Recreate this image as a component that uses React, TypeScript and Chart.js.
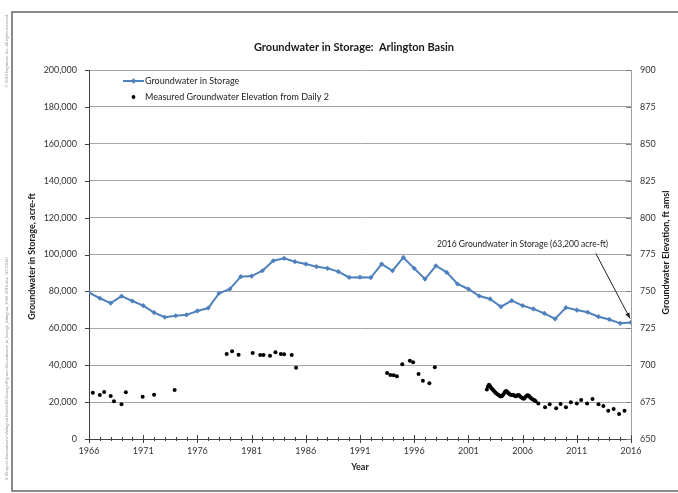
import React, { useEffect, useRef } from "react";
import { Chart, registerables } from "chart.js";

Chart.register(...registerables);

// ---- Data ----
const storageYears: number[] = [
  1966, 1967, 1968, 1969, 1970, 1971, 1972, 1973, 1974, 1975, 1976, 1977, 1978, 1979, 1980, 1981, 1982,
  1983, 1984, 1985, 1986, 1987, 1988, 1989, 1990, 1991, 1992, 1993, 1994, 1995, 1996, 1997, 1998, 1999,
  2000, 2001, 2002, 2003, 2004, 2005, 2006, 2007, 2008, 2009, 2010, 2011, 2012, 2013, 2014, 2015, 2016,
];
const storageValues: number[] = [
  79300, 76300, 73600, 77400, 74800, 72300, 68500, 66000, 66800, 67300, 69400, 71000, 79000, 81300, 88000,
  88300, 91200, 96600, 97900, 96100, 94800, 93400, 92500, 90700, 87600, 87700, 87500, 94800, 91200, 98400,
  92500, 86700, 93900, 90300, 84000, 81300, 77500, 75900, 71700, 75000, 72300, 70500, 68100, 65100, 71200,
  69900, 68700, 66300, 64800, 62700, 63200,
];

const elevYears: number[] = [
  1966.35, 1967.0, 1967.4, 1968.0, 1968.3, 1969.0, 1969.4, 1970.95, 1972.0, 1973.9,
  1978.7, 1979.2, 1979.8, 1981.1, 1981.8, 1982.1, 1982.7, 1983.2, 1983.7, 1984.0, 1984.7, 1985.1,
  1993.5, 1993.8, 1994.1, 1994.4, 1994.9, 1995.6, 1995.9, 1996.4, 1996.8, 1997.4, 1997.9,
  2002.7, 2002.8, 2002.9, 2003.0, 2003.1, 2003.2, 2003.3, 2003.4, 2003.5, 2003.6, 2003.7, 2003.8, 2003.9,
  2004.0, 2004.1, 2004.2, 2004.3, 2004.4, 2004.5, 2004.6, 2004.7, 2004.8, 2004.9, 2005.0, 2005.1, 2005.2,
  2005.3, 2005.4, 2005.5, 2005.6, 2005.7, 2005.8, 2005.9, 2006.0, 2006.1, 2006.2, 2006.3, 2006.4, 2006.5,
  2006.6, 2006.7, 2006.8, 2006.9, 2007.0, 2007.1, 2007.2,
  2007.45, 2008.07, 2008.5, 2009.1, 2009.5, 2010.0, 2010.45, 2011.0, 2011.4, 2011.95, 2012.45, 2013.0,
  2013.45, 2013.9, 2014.4, 2014.9, 2015.4,
];
const elevValues: number[] = [
  681.4, 679.8, 681.8, 679.1, 675.5, 673.5, 681.6, 678.7, 680.0, 683.2,
  707.6, 709.4, 707.1, 708.3, 706.9, 706.9, 706.4, 708.7, 707.6, 707.4, 706.9, 698.3,
  694.7, 693.4, 693.2, 692.5, 700.6, 703.0, 702.0, 694.0, 689.5, 687.7, 698.6,
  683.5, 685.5, 686.8, 685.8, 684.6, 683.8, 683.0, 682.2, 681.4, 680.8, 680.2, 679.8, 679.2,
  678.8, 679.2, 680.0, 681.0, 682.2, 682.6, 681.8, 681.0, 680.4, 680.0, 679.8, 680.0, 679.6,
  679.2, 679.0, 679.4, 679.8, 679.4, 678.6, 678.2, 677.6, 677.2, 677.8, 678.8, 679.4, 679.6,
  679.2, 678.2, 677.6, 677.0, 676.6, 676.2, 675.6,
  674.1, 671.5, 673.5, 670.8, 673.7, 671.5, 674.9, 674.1, 676.4, 674.1, 677.1, 673.5,
  672.4, 669.2, 670.3, 666.9, 669.2,
];

const xTickYears: number[] = [1966, 1971, 1976, 1981, 1986, 1991, 1996, 2001, 2006, 2011, 2016];

const titleText = "Groundwater in Storage:  Arlington Basin";
const leftAxisTitle = "Groundwater in Storage, acre-ft";
const rightAxisTitle = "Groundwater Elevation, ft amsl";
const xAxisTitle = "Year";
const seriesNames = ["Groundwater in Storage", "Measured Groundwater Elevation from Daily 2"];
const annotationText = "2016 Groundwater in Storage (63,200 acre-ft)";
// annotation anchors in data units: text start, arrow start, arrow target
const annotationTextAt = { x: 1998.1, y: 105600 };
const annotationArrowFrom = { x: 2012.75, y: 100600 };
const annotationArrowTo = { x: 2016, y: 63200 };
const gutterTop = "© 2016 Engineers, Inc. All rights reserved.";
const gutterPath =
  "S:\\Projects\\Groundwater\\Arlington Basin\\GIS\\Storage\\Figures\\Groundwater_in_Storage_Arlington_1966-2016.xlsx  (12/2016)";

const BLUE = "#4F81BD";
const FONT = "Lato, 'Open Sans', sans-serif";

const overlayPlugin = {
  id: "overlay",
  afterDraw(chart: any) {
    const ctx: CanvasRenderingContext2D = chart.ctx;
    const xs = chart.scales.x;
    const ys = chart.scales.y;
    const y2 = chart.scales.y2;
    const area = chart.chartArea;
    ctx.save();

    // x ticks
    ctx.strokeStyle = "#404040";
    ctx.lineWidth = 1;
    for (let yr = 1966; yr <= 2016; yr++) {
      const px = Math.round(xs.getPixelForValue(yr)) + 0.5;
      const major = yr % 5 === 1;
      const len = major ? 4 : 2;
      ctx.beginPath();
      ctx.moveTo(px, area.bottom - len);
      ctx.lineTo(px, area.bottom + len);
      ctx.stroke();
    }
    // left ticks
    for (let v = 0; v <= 200000; v += 20000) {
      const py = Math.round(ys.getPixelForValue(v)) + 0.5;
      ctx.beginPath();
      ctx.moveTo(area.left - 4, py);
      ctx.lineTo(area.left, py);
      ctx.stroke();
    }
    // right ticks
    ctx.strokeStyle = "#808080";
    for (let v = 650; v <= 900; v += 25) {
      const py = Math.round(y2.getPixelForValue(v)) + 0.5;
      ctx.beginPath();
      ctx.moveTo(area.right - 5, py);
      ctx.lineTo(area.right, py);
      ctx.stroke();
    }

    // title
    ctx.fillStyle = "#1a1a1a";
    ctx.textBaseline = "middle";
    ctx.textAlign = "center";
    ctx.font = `bold 11px ${FONT}`;
    ctx.fillText(titleText, 354, 47);

    // x title
    ctx.font = `bold 9px ${FONT}`;
    ctx.fillText(xAxisTitle, (area.left + area.right) / 2, 467);

    // left title
    ctx.save();
    ctx.translate(32, (area.top + area.bottom) / 2 + 2);
    ctx.rotate(-Math.PI / 2);
    ctx.fillText(leftAxisTitle, 0, 0);
    ctx.restore();

    // right title
    ctx.save();
    ctx.translate(666, (area.top + area.bottom) / 2 - 2);
    ctx.rotate(-Math.PI / 2);
    ctx.fillText(rightAxisTitle, 0, 0);
    ctx.restore();

    // legend
    ctx.textAlign = "left";
    ctx.font = `9px ${FONT}`;
    ctx.fillStyle = "#222";
    const lx = area.left + 34;
    const ly1 = area.top + 11;
    const ly2 = area.top + 27;
    ctx.strokeStyle = BLUE;
    ctx.lineWidth = 2;
    ctx.beginPath();
    ctx.moveTo(lx, ly1);
    ctx.lineTo(lx + 21, ly1);
    ctx.stroke();
    ctx.fillStyle = BLUE;
    ctx.beginPath();
    const mx = lx + 10.5;
    ctx.moveTo(mx, ly1 - 2.8);
    ctx.lineTo(mx + 2.8, ly1);
    ctx.lineTo(mx, ly1 + 2.8);
    ctx.lineTo(mx - 2.8, ly1);
    ctx.closePath();
    ctx.fill();
    ctx.fillStyle = "#000";
    ctx.beginPath();
    ctx.arc(mx, ly2, 1.9, 0, Math.PI * 2);
    ctx.fill();
    ctx.fillStyle = "#222";
    ctx.fillText(seriesNames[0], lx + 22, ly1 + 0.5);
    ctx.fillText(seriesNames[1], lx + 22, ly2 + 0.5);

    // annotation
    ctx.font = `8.5px ${FONT}`;
    ctx.fillStyle = "#222";
    ctx.fillText(annotationText, xs.getPixelForValue(annotationTextAt.x), ys.getPixelForValue(annotationTextAt.y));
    const ax0 = xs.getPixelForValue(annotationArrowFrom.x);
    const ay0 = ys.getPixelForValue(annotationArrowFrom.y);
    const tx = xs.getPixelForValue(annotationArrowTo.x) - 1;
    const ty = ys.getPixelForValue(annotationArrowTo.y) - 4;
    ctx.strokeStyle = "#222";
    ctx.lineWidth = 1;
    ctx.beginPath();
    ctx.moveTo(ax0, ay0);
    ctx.lineTo(tx, ty);
    ctx.stroke();
    const ang = Math.atan2(ty - ay0, tx - ax0);
    const hl = 6;
    ctx.fillStyle = "#222";
    ctx.beginPath();
    ctx.moveTo(tx, ty);
    ctx.lineTo(tx - hl * Math.cos(ang - 0.4), ty - hl * Math.sin(ang - 0.4));
    ctx.lineTo(tx - hl * Math.cos(ang + 0.4), ty - hl * Math.sin(ang + 0.4));
    ctx.closePath();
    ctx.fill();

    // frame
    ctx.strokeStyle = "#666";
    ctx.lineWidth = 1.5;
    ctx.beginPath();
    ctx.moveTo(678, 12);
    ctx.lineTo(12, 12);
    ctx.lineTo(12, 491);
    ctx.lineTo(678, 491);
    ctx.stroke();

    // gutter text
    ctx.fillStyle = "#9a9a9a";
    ctx.font = `4px ${FONT}`;
    ctx.textAlign = "right";
    ctx.save();
    ctx.translate(7, 14);
    ctx.rotate(-Math.PI / 2);
    ctx.fillText(gutterTop, 0, 0);
    ctx.restore();
    ctx.save();
    ctx.translate(7, 150);
    ctx.rotate(-Math.PI / 2);
    ctx.textAlign = "left";
    ctx.fillText(gutterPath, -330, 0);
    ctx.restore();

    ctx.restore();
  },
};

export default function App() {
  const ref = useRef<HTMLCanvasElement | null>(null);
  useEffect(() => {
    if (!ref.current) return;
    const chart = new Chart(ref.current, {
      type: "line",
      data: {
        datasets: [
          {
            label: seriesNames[0],
            data: storageYears.map((x, i) => ({ x, y: storageValues[i] })),
            yAxisID: "y",
            borderColor: BLUE,
            backgroundColor: BLUE,
            borderWidth: 2,
            pointStyle: "rectRot",
            pointRadius: 2.6,
            pointBorderWidth: 0,
            pointBackgroundColor: BLUE,
            tension: 0,
          } as any,
          {
            type: "scatter",
            label: seriesNames[1],
            data: elevYears.map((x, i) => ({ x, y: elevValues[i] })),
            yAxisID: "y2",
            showLine: false,
            pointRadius: 2,
            pointBorderWidth: 0,
            pointBackgroundColor: "#000",
            backgroundColor: "#000",
            borderColor: "#000",
          } as any,
        ],
      },
      options: {
        animation: false,
        responsive: false,
        devicePixelRatio: 1,
        layout: { padding: { top: 70, left: 0, right: 0, bottom: 0 } },
        plugins: { legend: { display: false }, tooltip: { enabled: false }, title: { display: false } },
        scales: {
          x: {
            type: "linear",
            min: 1966,
            max: 2016,
            afterFit: (s: any) => {
              s.height = 54;
            },
            afterBuildTicks: (s: any) => {
              s.ticks = xTickYears.map((v) => ({ value: v }));
            },
            ticks: {
              callback: (v: any) => String(v),
              font: { family: FONT, size: 9 },
              color: "#333",
              padding: 7,
              maxRotation: 0,
              autoSkip: false,
            },
            grid: { display: false, drawTicks: false },
            border: { display: true, color: "#404040", width: 1 },
          },
          y: {
            type: "linear",
            position: "left",
            min: 0,
            max: 200000,
            afterFit: (s: any) => {
              s.width = 89;
            },
            ticks: {
              stepSize: 20000,
              callback: (v: any) => Number(v).toLocaleString("en-US"),
              font: { family: FONT, size: 9 },
              color: "#333",
              padding: 12,
            },
            grid: { color: "#a6a6a6", lineWidth: 1, drawTicks: false },
            border: { display: true, color: "#404040", width: 1 },
          },
          y2: {
            type: "linear",
            position: "right",
            min: 650,
            max: 900,
            afterFit: (s: any) => {
              s.width = 47;
            },
            ticks: {
              stepSize: 25,
              font: { family: FONT, size: 9 },
              color: "#333",
              padding: 9,
            },
            grid: { display: false, drawTicks: false },
            border: { display: true, color: "#a0a0a0", width: 1 },
          },
        },
      } as any,
      plugins: [overlayPlugin],
    });
    return () => chart.destroy();
  }, []);
  return (
    <div style={{ position: "fixed", left: 0, top: 0, width: 678, height: 493, background: "#fff" }}>
      <canvas ref={ref} width={678} height={493} style={{ width: 678, height: 493, display: "block" }} />
    </div>
  );
}
